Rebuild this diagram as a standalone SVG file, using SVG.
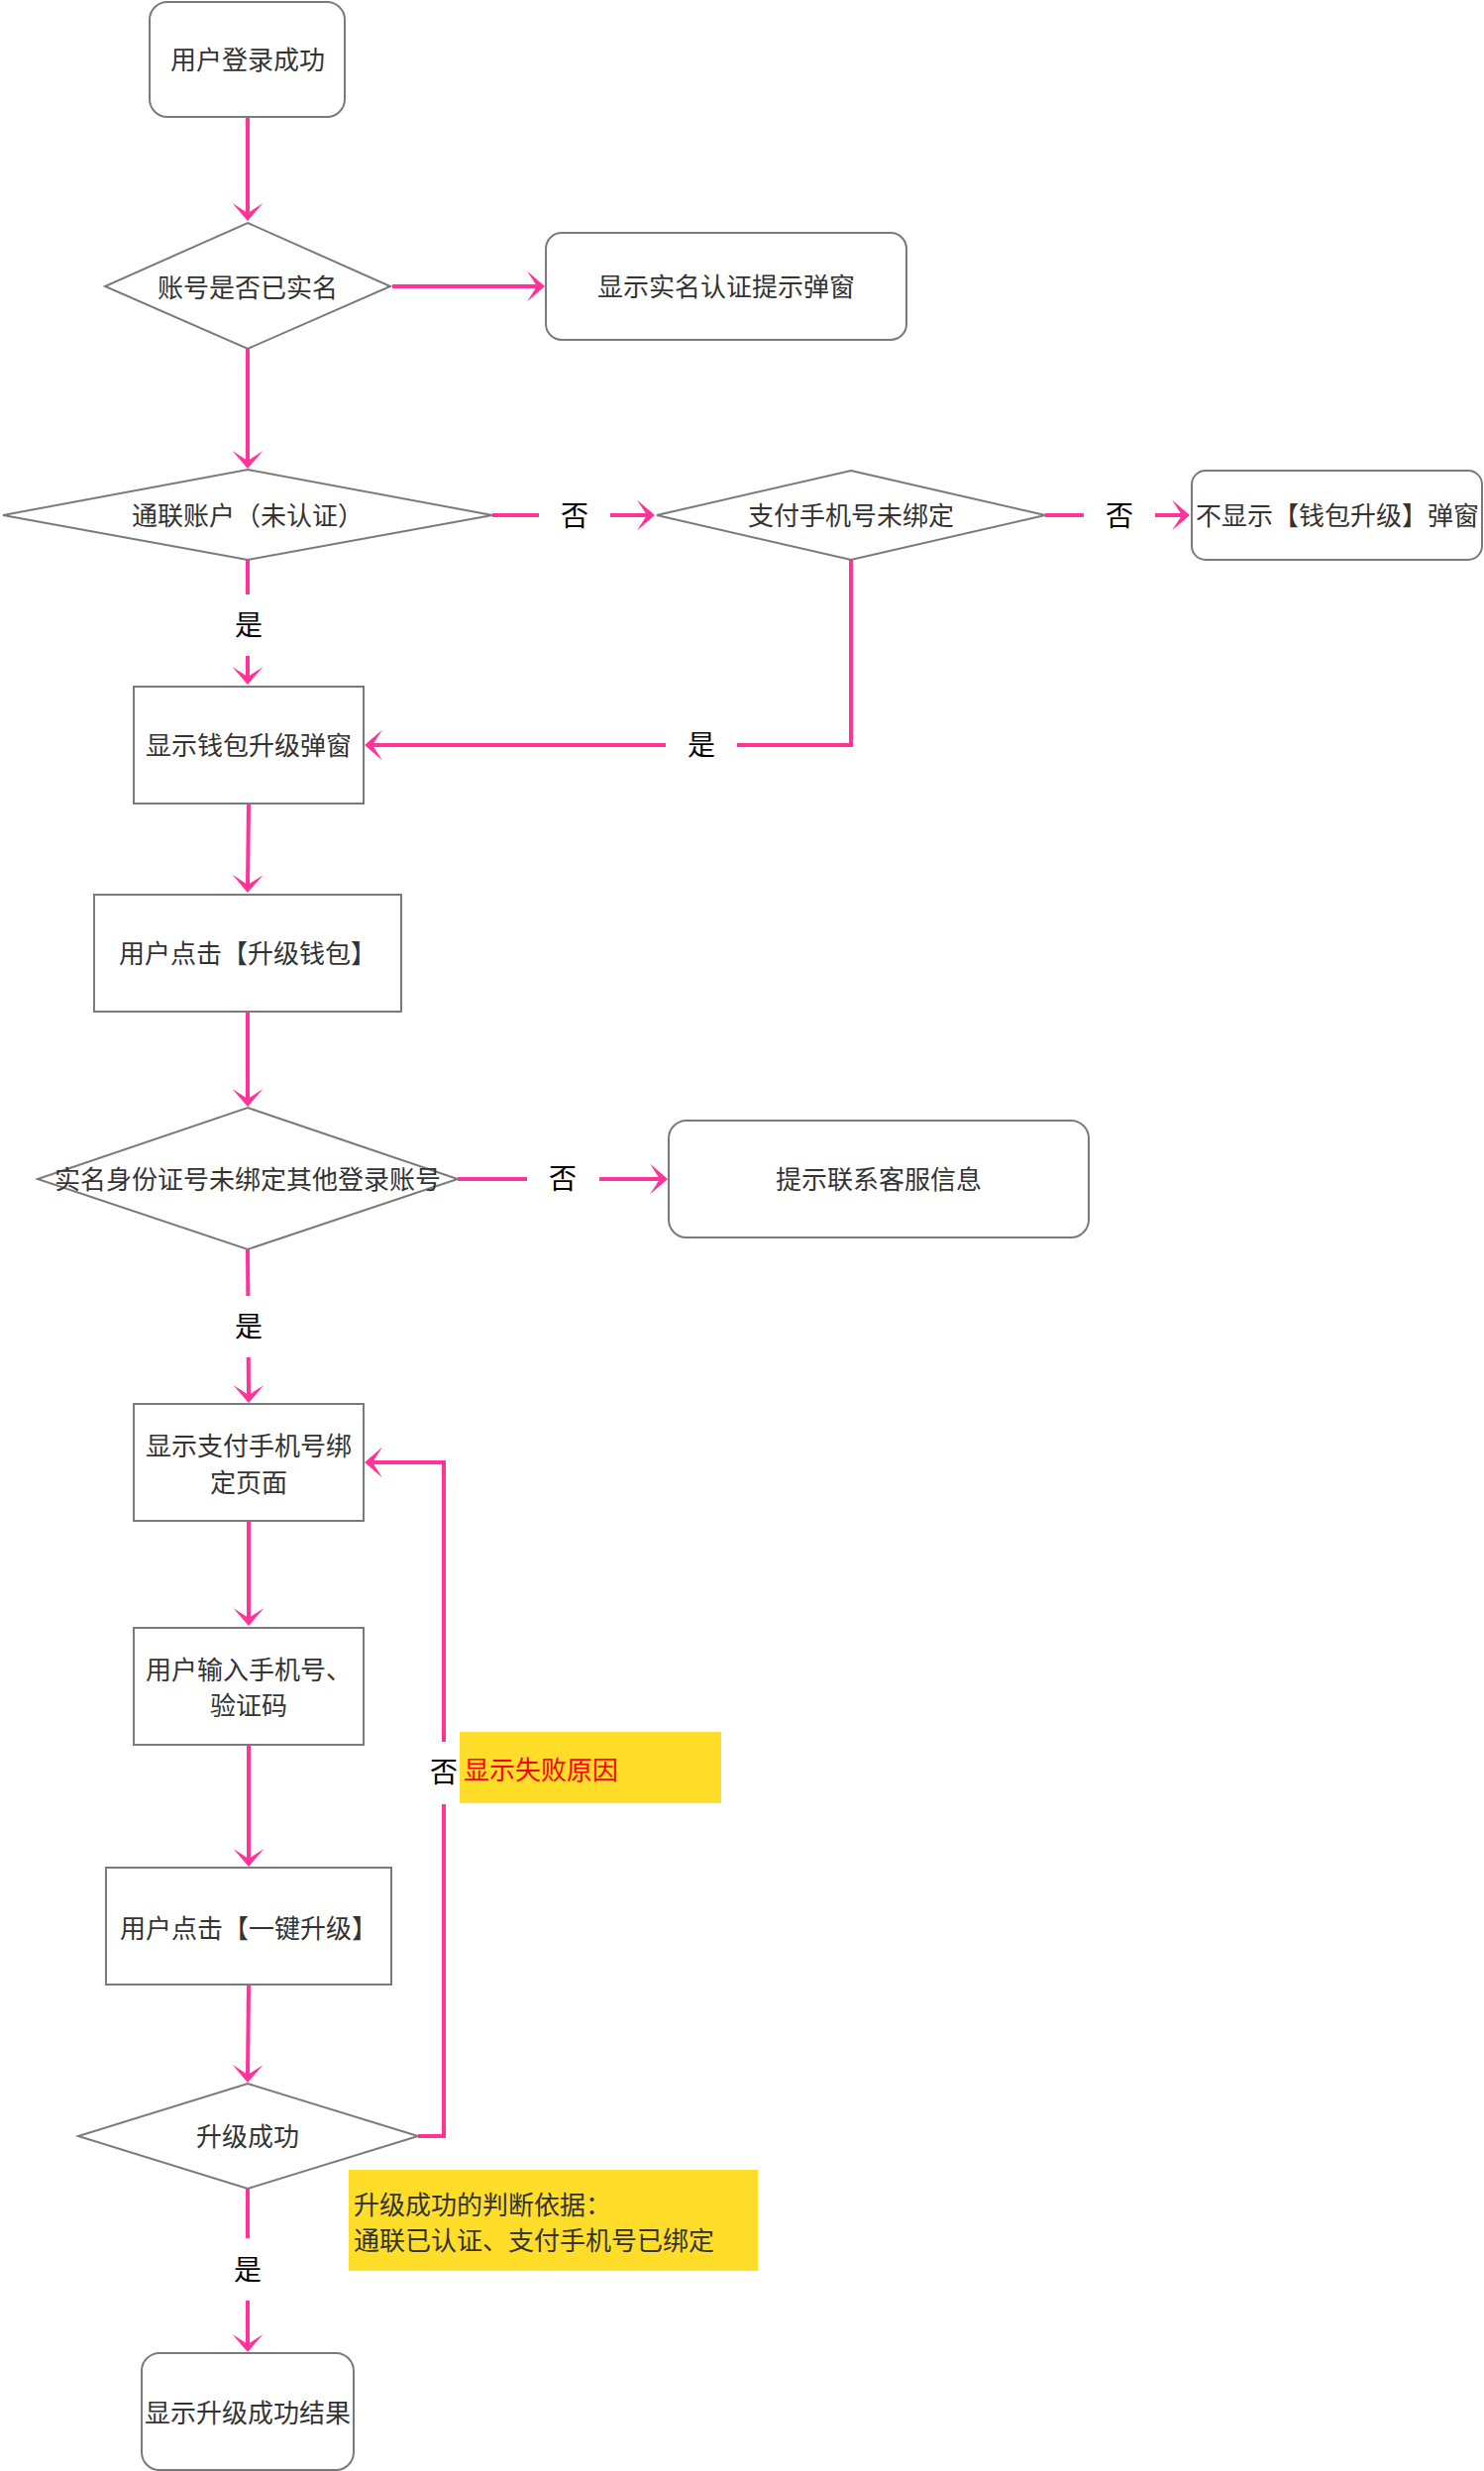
<svg xmlns="http://www.w3.org/2000/svg" width="1498" height="2494" viewBox="0 0 1498 2494">
<style>
.n{fill:#fff;stroke:#7a7a7a;stroke-width:2}
.t{font-family:"Noto Sans CJK SC","Noto Sans",sans-serif;font-size:26px;fill:#333;text-anchor:middle;dominant-baseline:central}
.e{fill:none;stroke:#FF3399;stroke-width:4;marker-end:url(#arr)}
.lb{fill:#fff}
.lt{font-family:"Noto Sans CJK SC","Noto Sans",sans-serif;font-size:28px;fill:#000;text-anchor:middle;dominant-baseline:central}
.note{fill:#FFDD29}
.nt{font-family:"Noto Sans CJK SC","Noto Sans",sans-serif;font-size:26px;dominant-baseline:central}
</style>
<defs>
<marker id="arr" markerUnits="userSpaceOnUse" viewBox="-11 -17 20 34" markerWidth="20" markerHeight="34" refX="0" refY="0" orient="auto">
<path d="M8,0 L-10,-15.5 L0,0 L-10,15.5 Z" fill="#FF3399"/>
</marker>
</defs>
<rect width="1498" height="2494" fill="#fff"/>
<g id="connectors">
<path class="e" d="M250,118 L250,215"/>
<path class="e" d="M396,289 L542,289"/>
<path class="e" d="M250,352 L250,465"/>
<path class="e" d="M497,520 L653,520"/>
<path class="e" d="M1055,520 L1193,520"/>
<path class="e" d="M250,565 L250,683"/>
<path class="e" d="M859,565 L859,752 L376,752"/>
<path class="e" d="M251,811 L250,893"/>
<path class="e" d="M250,1021 L250,1109"/>
<path class="e" d="M462,1190 L666,1190"/>
<path class="e" d="M250,1261 L251,1408"/>
<path class="e" d="M251,1535 L251,1633"/>
<path class="e" d="M251,1761 L251,1876"/>
<path class="e" d="M251,2003 L250,2094"/>
<path class="e" d="M422,2156 L448,2156 L448,1476 L376,1476"/>
<path class="e" d="M250,2209 L250,2366"/>
</g>
<g id="labels">
<rect class="lb" x="544" y="490" width="72" height="62"/><text class="lt" x="580" y="519">否</text>
<rect class="lb" x="1094" y="490" width="72" height="62"/><text class="lt" x="1130" y="519">否</text>
<rect class="lb" x="215" y="600" width="72" height="62"/><text class="lt" x="251" y="629">是</text>
<rect class="lb" x="672" y="721" width="72" height="62"/><text class="lt" x="708" y="750">是</text>
<rect class="lb" x="532" y="1159" width="73" height="62"/><text class="lt" x="568" y="1188">否</text>
<rect class="lb" x="215" y="1308" width="72" height="62"/><text class="lt" x="251" y="1337">是</text>
<rect class="lb" x="412" y="1758" width="72" height="63"/><text class="lt" x="448" y="1787">否</text>
<rect class="lb" x="214" y="2259" width="72" height="63"/><text class="lt" x="250" y="2289">是</text>
</g>
<g id="n1"><rect class="n" x="151" y="2" width="197" height="116" rx="18"/><text class="t" x="250" y="58">用户登录成功</text></g>
<g id="n2"><polygon class="n" points="250,225 394,289 250,352 106,289"/><text class="t" x="250" y="288">账号是否已实名</text></g>
<g id="n3"><rect class="n" x="551" y="235" width="364" height="108" rx="16"/><text class="t" x="733" y="287">显示实名认证提示弹窗</text></g>
<g id="n4"><polygon class="n" points="250,474 497,520 250,565 3,520"/><text class="t" x="250" y="518">通联账户（未认证）</text></g>
<g id="n5"><polygon class="n" points="859,475 1055,520 859,565 663,520"/><text class="t" x="859" y="518">支付手机号未绑定</text></g>
<g id="n6"><rect class="n" x="1203" y="475" width="293" height="90" rx="14"/><text class="t" x="1350" y="518">不显示【钱包升级】弹窗</text></g>
<g id="n7"><rect class="n" x="135" y="693" width="232" height="118"/><text class="t" x="251" y="750">显示钱包升级弹窗</text></g>
<g id="n8"><rect class="n" x="95" y="903" width="310" height="118"/><text class="t" x="250" y="960">用户点击【升级钱包】</text></g>
<g id="n9"><polygon class="n" points="250,1118 462,1190 250,1261 38,1190"/><text class="t" x="250" y="1188">实名身份证号未绑定其他登录账号</text></g>
<g id="n10"><rect class="n" x="675" y="1131" width="424" height="118" rx="18"/><text class="t" x="887" y="1188">提示联系客服信息</text></g>
<g id="n11"><rect class="n" x="135" y="1417" width="232" height="118"/><text class="t" x="251" y="1457">显示支付手机号绑</text><text class="t" x="251" y="1494">定页面</text></g>
<g id="n12"><rect class="n" x="135" y="1643" width="232" height="118"/><text class="t" x="251" y="1683">用户输入手机号、</text><text class="t" x="251" y="1719">验证码</text></g>
<g id="n13"><rect class="n" x="107" y="1885" width="288" height="118"/><text class="t" x="251" y="1944">用户点击【一键升级】</text></g>
<g id="n14"><polygon class="n" points="250,2103 422,2156 250,2209 79,2156"/><text class="t" x="250" y="2154">升级成功</text></g>
<g id="n15"><rect class="n" x="143" y="2375" width="214" height="118" rx="18"/><text class="t" x="250" y="2433">显示升级成功结果</text></g>
<g id="note1"><rect class="note" x="464" y="1748" width="264" height="72"/><text class="nt" x="468" y="1784" fill="#FF0000">显示失败原因</text></g>
<g id="note2"><rect class="note" x="352" y="2190" width="413" height="102"/><text class="nt" x="357" y="2223" fill="#333">升级成功的判断依据：</text><text class="nt" x="357" y="2259" fill="#333">通联已认证、支付手机号已绑定</text></g>
</svg>
